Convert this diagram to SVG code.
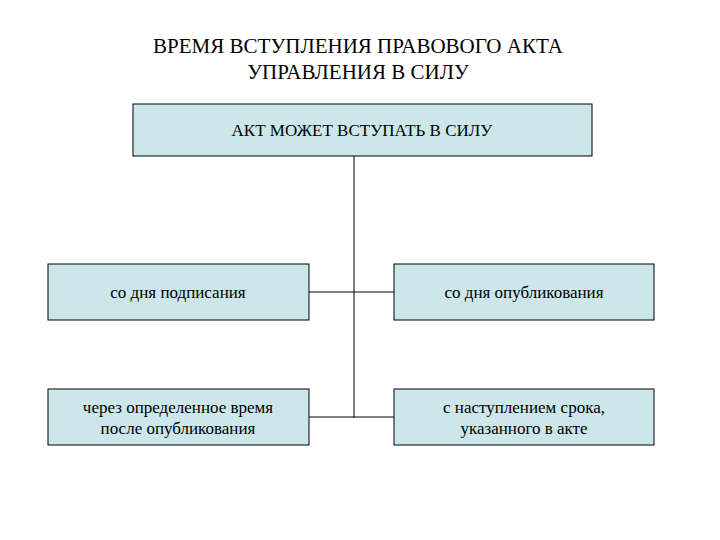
<svg xmlns="http://www.w3.org/2000/svg" width="720" height="540" viewBox="0 0 720 540">
<style>
.box{fill:#cce6ea;stroke:#000;stroke-width:1}
.t{font-family:'Liberation Serif','Times New Roman','DejaVu Serif',serif;font-size:17px;fill:#000;text-anchor:middle}
.h{font-family:'Liberation Serif','Times New Roman','DejaVu Serif',serif;font-size:21px;fill:#000;text-anchor:middle}
.c{stroke:#000;stroke-width:1;fill:none}
</style>
<rect width="720" height="540" fill="#fff"/>
<text class="h" x="358" y="53">ВРЕМЯ ВСТУПЛЕНИЯ ПРАВОВОГО АКТА</text>
<text class="h" x="358" y="79">УПРАВЛЕНИЯ В СИЛУ</text>
<g id="connectors">
<path class="c" d="M354 156V418M309 292H394M309 417H394"/>
</g>
<g id="top"><rect class="box" x="133" y="104" width="459" height="52"/><text class="t" x="362" y="136">АКТ МОЖЕТ ВСТУПАТЬ В СИЛУ</text></g>
<g id="n1"><rect class="box" x="48" y="264" width="261" height="56"/><text class="t" x="178" y="298">со дня подписания</text></g>
<g id="n2"><rect class="box" x="394" y="264" width="260" height="56"/><text class="t" x="524" y="298">со дня опубликования</text></g>
<g id="n3"><rect class="box" x="48" y="389" width="261" height="56"/><text class="t" x="178" y="413">через определенное время</text><text class="t" x="178" y="434">после опубликования</text></g>
<g id="n4"><rect class="box" x="394" y="389" width="260" height="56"/><text class="t" x="524" y="413">с наступлением срока,</text><text class="t" x="524" y="434">указанного в акте</text></g>
</svg>
